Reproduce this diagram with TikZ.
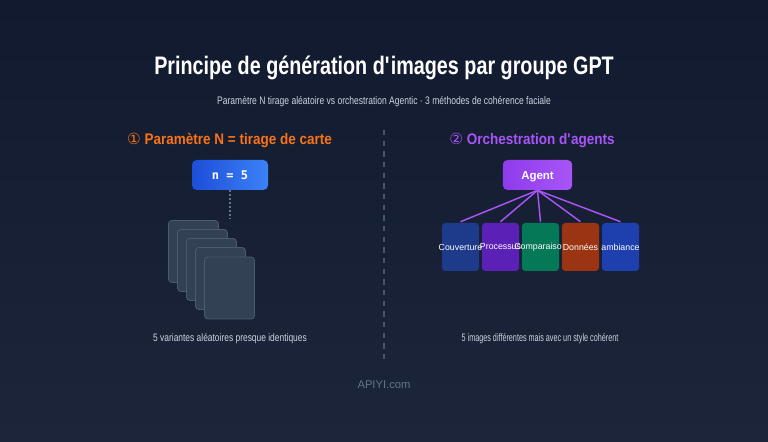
\documentclass[tikz,border=0pt]{standalone}
\usepackage{fontspec}
\setmainfont{Liberation Sans}
\newfontfamily\narrowfont[FakeStretch=0.78]{Liberation Sans}
\newfontfamily\tightfont[FakeStretch=0.67]{Liberation Sans}
\newfontfamily\headfont[FakeStretch=0.88]{Liberation Sans}
\newfontfamily\circfont{DejaVu Sans}
\setmonofont{DejaVu Sans Mono}
\usepackage{xcolor}
\usepackage{tikz}
\usetikzlibrary{positioning, calc}

\definecolor{bgtop}{HTML}{111A2E}
\definecolor{bgbottom}{HTML}{1C2539}
\definecolor{subgray}{HTML}{CBD5E1}
\definecolor{divgray}{HTML}{475569}
\definecolor{cardfill}{HTML}{334155}
\definecolor{carddraw}{HTML}{4B5A6E}
\definecolor{orangehead}{HTML}{F97316}
\definecolor{purplehead}{HTML}{A855F7}
\definecolor{nblueA}{HTML}{1D4ED8}
\definecolor{nblueB}{HTML}{3B82F6}
\definecolor{agentA}{HTML}{8E3BEB}
\definecolor{agentB}{HTML}{A855F7}
\definecolor{boxA}{HTML}{1E3A8A}
\definecolor{boxB}{HTML}{5B21B6}
\definecolor{boxC}{HTML}{047857}
\definecolor{boxD}{HTML}{9A3412}
\definecolor{boxE}{HTML}{1E40AF}
\definecolor{footgray}{HTML}{64748B}

\tikzset{
  card/.style={draw=carddraw, fill=cardfill, line width=0.6pt, rounded corners=2.5pt,
    minimum width=37.5pt, minimum height=46.5pt, inner sep=0pt},
  colorbox/.style={rounded corners=2.5pt, minimum width=27.75pt, minimum height=36pt, inner sep=0pt},
  boxtext/.style={text=white, font=\fontsize{6.6}{7}\selectfont, inner sep=0pt},
  caption/.style={text=subgray, font=\narrowfont\fontsize{8.1}{9}\selectfont},
}

\begin{document}
\begin{tikzpicture}[x=0.75pt, y=-0.75pt]
  % Background
  \fill[top color=bgtop, bottom color=bgbottom] (0,0) rectangle (768,442);
  \useasboundingbox (0,0) rectangle (768,442);

  % Titles
  \node[text=white, font=\narrowfont\bfseries\fontsize{19}{22}\selectfont] (title) at (384,68)
    {Principe de génération d\textquotesingle images par groupe GPT};
  \node[text=subgray, font=\narrowfont\fontsize{8.2}{10}\selectfont] (subtitle) at (384,101.5)
    {Paramètre N tirage aléatoire vs orchestration Agentic · 3 méthodes de cohérence faciale};

  % Divider
  \coordinate (divtop) at (384,130);
  \coordinate (divbot) at (384,360);
  \draw[divgray, line width=0.8pt, dash pattern=on 4pt off 4pt] (divtop) -- (divbot);

  % Left side: parameter N
  \node[text=orangehead, font=\headfont\bfseries\fontsize{11.5}{14}\selectfont] (lefthead) at (229.5,140)
    {{\circfont\mdseries ①} Paramètre N = tirage de carte};
  \node[left color=nblueA, right color=nblueB, rounded corners=3.5pt, minimum width=57pt,
    minimum height=22.5pt, text=white, font=\ttfamily\bfseries\fontsize{9}{10}\selectfont] (nbox) at (230,175)
    {n = 5};
  \coordinate (nend) at (230,219);
  \draw[footgray, line width=0.8pt, dash pattern=on 1.5pt off 1.5pt] (nbox.south) -- (nend);

  \node[card] (card1) at (193.5,251.5) {};
  \node[card] (card2) at (202.5,260.5) {};
  \node[card] (card3) at (211.5,269.5) {};
  \node[card] (card4) at (220.5,278.5) {};
  \node[card] (card5) at (229.5,288) {};

  \node[caption] (leftcap) at (230,339) {5 variantes aléatoires presque identiques};

  % Right side: agent orchestration
  \node[text=purplehead, font=\headfont\bfseries\fontsize{11.5}{14}\selectfont] (righthead) at (532,140)
    {{\circfont\mdseries ②} Orchestration d\textquotesingle agents};
  \node[left color=agentA, right color=agentB, rounded corners=3.5pt, minimum width=52pt,
    minimum height=22.5pt, text height=6.2pt, text depth=0pt, text=white,
    font=\bfseries\fontsize{8.6}{10}\selectfont] (agent) at (537.5,175)
    {Agent};

  \node[colorbox, fill=boxA] (b1) at (460.5,247) {};
  \node[boxtext] (t1) at (b1) {Couverture};
  \node[colorbox, fill=boxB] (b2) at (500.5,247) {};
  \node[boxtext] (t2) at (b2) {Processus};
  \node[colorbox, fill=boxC] (b3) at (540.5,247) {};
  \node[boxtext] (t3) at (b3) {Comparaison};
  \node[colorbox, fill=boxD] (b4) at (580.5,247) {};
  \node[boxtext] (t4) at (b4) {Données};
  \node[colorbox, fill=boxE] (b5) at (620.5,247) {};
  \node[boxtext] (t5) at (b5) {ambiance};

  % Agent links
  \draw[purplehead, line width=1.1pt] (agent.south) -- ($(b1.north)+(0,-1)$);
  \draw[purplehead, line width=1.1pt] (agent.south) -- ($(b2.north)+(0,-1)$);
  \draw[purplehead, line width=1.1pt] (agent.south) -- ($(b3.north)+(0,-1)$);
  \draw[purplehead, line width=1.1pt] (agent.south) -- ($(b4.north)+(0,-1)$);
  \draw[purplehead, line width=1.1pt] (agent.south) -- ($(b5.north)+(0,-1)$);

  \node[caption, font=\tightfont\fontsize{8.1}{9}\selectfont] (rightcap) at (540,339)
    {5 images différentes mais avec un style cohérent};

  % Footer
  \node[text=footgray, font=\fontsize{8.4}{10}\selectfont] (footer) at (384,385) {APIYI.com};
\end{tikzpicture}
\end{document}
